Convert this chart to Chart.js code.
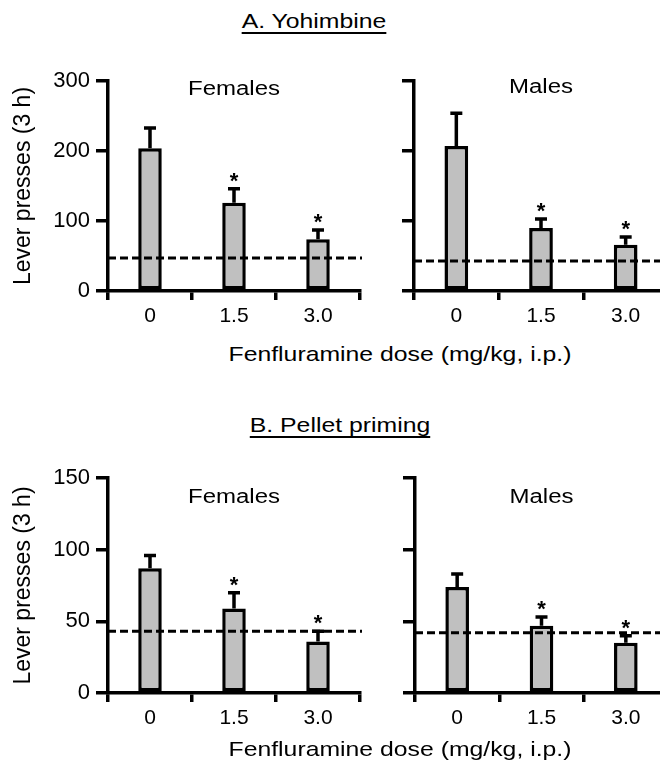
<!DOCTYPE html>
<html lang="en">
<head>
  <meta charset="UTF-8">
  <title>Fenfluramine dose and lever presses</title>
  <script src="https://cdn.jsdelivr.net/npm/chart.js"></script>
  <style>
    body { margin: 0; background: #fff; }
    #page { position: relative; width: 660px; height: 768px; overflow: hidden; font-family: 'Liberation Sans', Arial, sans-serif; color: #000; }
    canvas { position: absolute; }
    .txt { position: absolute; white-space: nowrap; font-size: 21px; line-height: 1; transform: translateX(-50%) scaleX(1.18); }
    .head { text-decoration: underline; text-underline-offset: 4px; }
  </style>
</head>
<body>
<div id="page">
  <div class="txt head" style="left:314px; top:10px;">A. Yohimbine</div>
  <canvas id="yohF" width="370" height="280" style="left:0; top:60px;"></canvas>
  <canvas id="yohM" width="345" height="280" style="left:330px; top:60px;"></canvas>
  <div class="txt" style="left:400px; top:343px;">Fenfluramine dose (mg/kg, i.p.)</div>

  <div class="txt head" style="left:340px; top:414px;">B. Pellet priming</div>
  <canvas id="pelF" width="370" height="290" style="left:0; top:450px;"></canvas>
  <canvas id="pelM" width="345" height="290" style="left:330px; top:450px;"></canvas>
  <div class="txt" style="left:400px; top:738px;">Fenfluramine dose (mg/kg, i.p.)</div>
</div>

<script>
  // doses on the x axis
  const doses = ['0', '1.5', '3.0'];
  // * marks vs. dose 0
  const significant = [false, true, true];

  // A. Yohimbine (mean, SEM, baseline)
  const yohFemales = [204, 126, 74];
  const yohFemalesSem = [29, 20, 13];
  const yohFemalesBase = 47;
  const yohMales = [207, 90, 66];
  const yohMalesSem = [47, 13, 11];
  const yohMalesBase = 43;

  // B. Pellet priming
  const pelFemales = [87, 59, 36];
  const pelFemalesSem = [9, 11, 7];
  const pelFemalesBase = 43;
  const pelMales = [74, 47, 35];
  const pelMalesSem = [9, 6, 5];
  const pelMalesBase = 42;

  const FONT = "'Liberation Sans', Arial, sans-serif";

  // error bars, dashed baseline, asterisks and panel name
  const extrasPlugin = {
    id: 'extras',
    afterDatasetsDraw(chart, args, opts) {
      const ctx = chart.ctx;
      const y = chart.scales.y;
      const meta = chart.getDatasetMeta(0);
      const area = chart.chartArea;
      ctx.save();

      // error bars (upper only)
      ctx.strokeStyle = '#000';
      ctx.lineWidth = 3.5;
      meta.data.forEach((bar, i) => {
        const v = opts.values[i];
        const top = y.getPixelForValue(v + opts.sem[i]);
        const cx = bar.x;
        ctx.beginPath();
        ctx.moveTo(cx, y.getPixelForValue(v));
        ctx.lineTo(cx, top);
        ctx.moveTo(cx - 6, top);
        ctx.lineTo(cx + 6, top);
        ctx.stroke();

        if (significant[i]) {
          ctx.fillStyle = '#000';
          ctx.font = 'bold 22px ' + FONT;
          ctx.textAlign = 'center';
          ctx.textBaseline = 'alphabetic';
          ctx.fillText('*', cx, top - 1);
        }
      });

      // dashed baseline
      const by = y.getPixelForValue(opts.base);
      ctx.lineWidth = 3;
      ctx.setLineDash([8, 4]);
      ctx.beginPath();
      ctx.moveTo(area.left, by);
      ctx.lineTo(area.right + 2, by);
      ctx.stroke();
      ctx.setLineDash([]);

      // panel name
      ctx.fillStyle = '#000';
      ctx.font = '20px ' + FONT;
      ctx.textAlign = 'center';
      ctx.textBaseline = 'middle';
      ctx.translate((area.left + area.right) / 2, area.top + opts.labelOffset);
      ctx.scale(1.2, 1);
      ctx.fillText(opts.label, 0, 0);
      ctx.restore();
    }
  };

  function makeChart(id, values, sem, base, cfg) {
    const ctx = document.getElementById(id).getContext('2d');
    new Chart(ctx, {
      type: 'bar',
      data: {
        labels: doses,
        datasets: [{
          data: values,
          backgroundColor: '#c0c0c0',
          borderColor: '#000',
          borderWidth: 3.5,
          borderSkipped: false,
          categoryPercentage: 1,
          barPercentage: 0.28
        }]
      },
      options: {
        responsive: false,
        animation: false,
        layout: { padding: { top: cfg.padTop, right: cfg.padRight, left: 0, bottom: 0 } },
        plugins: {
          legend: { display: false },
          tooltip: { enabled: false },
          extras: { values: values, sem: sem, base: base, label: cfg.label, labelOffset: cfg.labelOffset }
        },
        scales: {
          x: {
            afterFit(scale) { scale.height = cfg.xHeight; },
            grid: { offset: true, drawOnChartArea: false, drawTicks: true, tickLength: 9, color: '#000', lineWidth: 3.5 },
            border: { color: '#000', width: 3.5 },
            ticks: { color: '#000', font: { family: FONT, size: 21 }, padding: 4 }
          },
          y: {
            min: 0,
            max: cfg.max,
            afterFit(scale) { scale.width = cfg.yWidth; },
            grid: { drawOnChartArea: false, drawTicks: true, tickLength: 12, color: '#000', lineWidth: 3.5 },
            border: { color: '#000', width: 3.5 },
            ticks: { stepSize: cfg.step, display: cfg.showLabels, color: '#000', font: { family: FONT, size: 22 }, padding: 6 },
            title: {
              display: cfg.showLabels,
              text: 'Lever presses (3 h)',
              color: '#000',
              font: { family: FONT, size: 23 },
              padding: { top: 10, bottom: 0 }
            }
          }
        }
      },
      plugins: [extrasPlugin]
    });
  }

  makeChart('yohF', yohFemales, yohFemalesSem, yohFemalesBase,
    { max: 300, step: 100, label: 'Females', labelOffset: 8, showLabels: true, yWidth: 108, padTop: 21, padRight: 10, xHeight: 49 });
  makeChart('yohM', yohMales, yohMalesSem, yohMalesBase,
    { max: 300, step: 100, label: 'Males', labelOffset: 6, showLabels: false, yWidth: 84, padTop: 21, padRight: 7, xHeight: 49 });
  makeChart('pelF', pelFemales, pelFemalesSem, pelFemalesBase,
    { max: 150, step: 50, label: 'Females', labelOffset: 19, showLabels: true, yWidth: 108, padTop: 28, padRight: 10, xHeight: 47 });
  makeChart('pelM', pelMales, pelMalesSem, pelMalesBase,
    { max: 150, step: 50, label: 'Males', labelOffset: 19, showLabels: false, yWidth: 85, padTop: 28, padRight: 7, xHeight: 47 });
</script>
</body>
</html>
